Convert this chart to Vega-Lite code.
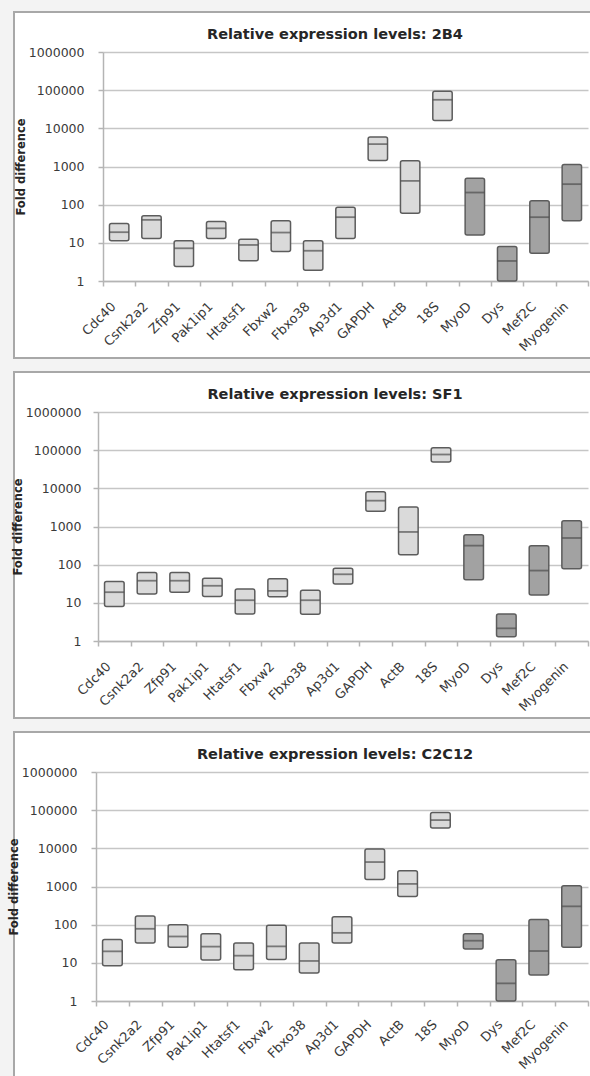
{
  "$schema": "https://vega.github.io/schema/vega-lite/v6.json",
  "background": "#f3f3f3",
  "padding": {"left": 7, "top": 11, "right": 0, "bottom": 0},
  "spacing": 12,
  "data": {
    "values": [
      {"line": "2B4", "gene": "Cdc40", "set": "reference", "low": 11.4, "mid": 19, "high": 32},
      {"line": "2B4", "gene": "Csnk2a2", "set": "reference", "low": 13, "mid": 40, "high": 51},
      {"line": "2B4", "gene": "Zfp91", "set": "reference", "low": 2.4, "mid": 7.2, "high": 11.4},
      {"line": "2B4", "gene": "Pak1ip1", "set": "reference", "low": 13, "mid": 24, "high": 36},
      {"line": "2B4", "gene": "Htatsf1", "set": "reference", "low": 3.4, "mid": 8.8, "high": 12.4},
      {"line": "2B4", "gene": "Fbxw2", "set": "reference", "low": 5.9, "mid": 18.6, "high": 38},
      {"line": "2B4", "gene": "Fbxo38", "set": "reference", "low": 1.9, "mid": 6.2, "high": 11.4},
      {"line": "2B4", "gene": "Ap3d1", "set": "reference", "low": 13, "mid": 47, "high": 86},
      {"line": "2B4", "gene": "GAPDH", "set": "reference", "low": 1440, "mid": 3860, "high": 5900},
      {"line": "2B4", "gene": "ActB", "set": "reference", "low": 60, "mid": 420, "high": 1410},
      {"line": "2B4", "gene": "18S", "set": "reference", "low": 16000, "mid": 56000, "high": 93000},
      {"line": "2B4", "gene": "MyoD", "set": "muscle", "low": 16, "mid": 208, "high": 495},
      {"line": "2B4", "gene": "Dys", "set": "muscle", "low": 1, "mid": 3.35, "high": 8},
      {"line": "2B4", "gene": "Mef2C", "set": "muscle", "low": 5.3, "mid": 47, "high": 126},
      {"line": "2B4", "gene": "Myogenin", "set": "muscle", "low": 38, "mid": 345, "high": 1130},

      {"line": "SF1", "gene": "Cdc40", "set": "reference", "low": 8, "mid": 19, "high": 36},
      {"line": "SF1", "gene": "Csnk2a2", "set": "reference", "low": 17, "mid": 38, "high": 62},
      {"line": "SF1", "gene": "Zfp91", "set": "reference", "low": 19, "mid": 38, "high": 62},
      {"line": "SF1", "gene": "Pak1ip1", "set": "reference", "low": 14.6, "mid": 28, "high": 44},
      {"line": "SF1", "gene": "Htatsf1", "set": "reference", "low": 5.1, "mid": 11.7, "high": 23},
      {"line": "SF1", "gene": "Fbxw2", "set": "reference", "low": 14.4, "mid": 20.5, "high": 43},
      {"line": "SF1", "gene": "Fbxo38", "set": "reference", "low": 5, "mid": 11.7, "high": 21.5},
      {"line": "SF1", "gene": "Ap3d1", "set": "reference", "low": 31, "mid": 56, "high": 81},
      {"line": "SF1", "gene": "GAPDH", "set": "reference", "low": 2500, "mid": 4750, "high": 8100},
      {"line": "SF1", "gene": "ActB", "set": "reference", "low": 182, "mid": 720, "high": 3250},
      {"line": "SF1", "gene": "18S", "set": "reference", "low": 49000, "mid": 77000, "high": 115000},
      {"line": "SF1", "gene": "MyoD", "set": "muscle", "low": 40, "mid": 315, "high": 610},
      {"line": "SF1", "gene": "Dys", "set": "muscle", "low": 1.3, "mid": 2.15, "high": 5.1},
      {"line": "SF1", "gene": "Mef2C", "set": "muscle", "low": 16, "mid": 70, "high": 313},
      {"line": "SF1", "gene": "Myogenin", "set": "muscle", "low": 78, "mid": 500, "high": 1420},

      {"line": "C2C12", "gene": "Cdc40", "set": "reference", "low": 8.4, "mid": 20, "high": 41},
      {"line": "C2C12", "gene": "Csnk2a2", "set": "reference", "low": 33, "mid": 78, "high": 168},
      {"line": "C2C12", "gene": "Zfp91", "set": "reference", "low": 25.5, "mid": 49, "high": 99},
      {"line": "C2C12", "gene": "Pak1ip1", "set": "reference", "low": 11.8, "mid": 26.6, "high": 58},
      {"line": "C2C12", "gene": "Htatsf1", "set": "reference", "low": 6.6, "mid": 15.4, "high": 33},
      {"line": "C2C12", "gene": "Fbxw2", "set": "reference", "low": 12.3, "mid": 27, "high": 97},
      {"line": "C2C12", "gene": "Fbxo38", "set": "reference", "low": 5.4, "mid": 11.2, "high": 33},
      {"line": "C2C12", "gene": "Ap3d1", "set": "reference", "low": 33, "mid": 61, "high": 161},
      {"line": "C2C12", "gene": "GAPDH", "set": "reference", "low": 1520, "mid": 4370, "high": 9600},
      {"line": "C2C12", "gene": "ActB", "set": "reference", "low": 545, "mid": 1170, "high": 2600},
      {"line": "C2C12", "gene": "18S", "set": "reference", "low": 34000, "mid": 55000, "high": 87000},
      {"line": "C2C12", "gene": "MyoD", "set": "muscle", "low": 23, "mid": 38, "high": 58},
      {"line": "C2C12", "gene": "Dys", "set": "muscle", "low": 1, "mid": 2.9, "high": 12},
      {"line": "C2C12", "gene": "Mef2C", "set": "muscle", "low": 4.8, "mid": 20.4, "high": 137},
      {"line": "C2C12", "gene": "Myogenin", "set": "muscle", "low": 25.5, "mid": 302, "high": 1040}
    ]
  },
  "config": {
    "font": "DejaVu Sans",
    "view": {"fill": "white", "stroke": "#a8a8a8", "strokeWidth": 2},
    "axis": {
      "gridColor": "#c6c6c6",
      "gridWidth": 1.5,
      "domainColor": "#b4b4b4",
      "domainWidth": 1.5,
      "tickColor": "#b4b4b4",
      "tickWidth": 1.5,
      "labelColor": "#3a3a3a",
      "titleColor": "#262626"
    },
    "title": {"fontSize": 14.5, "fontWeight": "bold", "color": "#262626", "offset": -30, "dx": 30, "anchor": "middle", "frame": "group"}
  },
  "vconcat": [
    {
      "width": 582,
      "height": 346,
      "title": "Relative expression levels: 2B4",
      "transform": [{"filter": "datum.line === '2B4'"}],
      "encoding": {
        "x": {
          "field": "gene", "type": "nominal",
          "sort": ["Cdc40", "Csnk2a2", "Zfp91", "Pak1ip1", "Htatsf1", "Fbxw2", "Fbxo38", "Ap3d1", "GAPDH", "ActB", "18S", "MyoD", "Dys", "Mef2C", "Myogenin"],
          "scale": {"range": [89, 574], "paddingInner": 0, "paddingOuter": 0},
          "axis": {"title": null, "offset": -77, "tickBand": "extent", "tickSize": 5, "labelAngle": -45, "labelAlign": "right", "labelBaseline": "middle", "labelPadding": 18, "labelOffset": -6, "labelFontSize": 13, "grid": false}
        },
        "color": {"field": "set", "type": "nominal", "scale": {"domain": ["reference", "muscle"], "range": ["#dadada", "#a2a2a2"]}, "legend": null}
      },
      "layer": [
        {
          "mark": {"type": "bar", "width": {"band": 0.6}, "stroke": "#5c5c5c", "strokeWidth": 1.5, "cornerRadius": 2},
          "encoding": {
            "y": {"field": "high", "type": "quantitative", "title": "Fold difference",
              "scale": {"type": "log", "domain": [1, 1000000], "range": [269, 40]},
              "axis": {"offset": -89, "values": [1, 10, 100, 1000, 10000, 100000, 1000000], "format": "d", "tickSize": 5, "labelPadding": 14, "labelFontSize": 12.5, "titleFontSize": 11.5, "titleFontWeight": "bold", "titlePadding": 2, "grid": true}},
            "y2": {"field": "low"}
          }
        },
        {
          "mark": {"type": "tick", "size": 19.5, "thickness": 1.8, "color": "#4f4f4f"},
          "encoding": {"y": {"field": "mid", "type": "quantitative", "title": "Fold difference"}, "color": {"value": "#4f4f4f"}}
        }
      ]
    },
    {
      "width": 582,
      "height": 346,
      "title": "Relative expression levels: SF1",
      "transform": [{"filter": "datum.line === 'SF1'"}],
      "encoding": {
        "x": {
          "field": "gene", "type": "nominal",
          "sort": ["Cdc40", "Csnk2a2", "Zfp91", "Pak1ip1", "Htatsf1", "Fbxw2", "Fbxo38", "Ap3d1", "GAPDH", "ActB", "18S", "MyoD", "Dys", "Mef2C", "Myogenin"],
          "scale": {"range": [84, 574], "paddingInner": 0, "paddingOuter": 0},
          "axis": {"title": null, "offset": -77, "tickBand": "extent", "tickSize": 5, "labelAngle": -45, "labelAlign": "right", "labelBaseline": "middle", "labelPadding": 18, "labelOffset": -6, "labelFontSize": 13, "grid": false}
        },
        "color": {"field": "set", "type": "nominal", "scale": {"domain": ["reference", "muscle"], "range": ["#dadada", "#a2a2a2"]}, "legend": null}
      },
      "layer": [
        {
          "mark": {"type": "bar", "width": {"band": 0.6}, "stroke": "#5c5c5c", "strokeWidth": 1.5, "cornerRadius": 2},
          "encoding": {
            "y": {"field": "high", "type": "quantitative", "title": "Fold difference",
              "scale": {"type": "log", "domain": [1, 1000000], "range": [269, 40]},
              "axis": {"offset": -84, "values": [1, 10, 100, 1000, 10000, 100000, 1000000], "format": "d", "tickSize": 5, "labelPadding": 12, "labelFontSize": 12.5, "titleFontSize": 11.5, "titleFontWeight": "bold", "titlePadding": 2, "grid": true}},
            "y2": {"field": "low"}
          }
        },
        {
          "mark": {"type": "tick", "size": 19.5, "thickness": 1.8, "color": "#4f4f4f"},
          "encoding": {"y": {"field": "mid", "type": "quantitative", "title": "Fold difference"}, "color": {"value": "#4f4f4f"}}
        }
      ]
    },
    {
      "width": 582,
      "height": 346,
      "title": "Relative expression levels: C2C12",
      "transform": [{"filter": "datum.line === 'C2C12'"}],
      "encoding": {
        "x": {
          "field": "gene", "type": "nominal",
          "sort": ["Cdc40", "Csnk2a2", "Zfp91", "Pak1ip1", "Htatsf1", "Fbxw2", "Fbxo38", "Ap3d1", "GAPDH", "ActB", "18S", "MyoD", "Dys", "Mef2C", "Myogenin"],
          "scale": {"range": [82, 574], "paddingInner": 0, "paddingOuter": 0},
          "axis": {"title": null, "offset": -77, "tickBand": "extent", "tickSize": 5, "labelAngle": -45, "labelAlign": "right", "labelBaseline": "middle", "labelPadding": 16, "labelOffset": -6, "labelFontSize": 13, "grid": false}
        },
        "color": {"field": "set", "type": "nominal", "scale": {"domain": ["reference", "muscle"], "range": ["#dadada", "#a2a2a2"]}, "legend": null}
      },
      "layer": [
        {
          "mark": {"type": "bar", "width": {"band": 0.6}, "stroke": "#5c5c5c", "strokeWidth": 1.5, "cornerRadius": 2},
          "encoding": {
            "y": {"field": "high", "type": "quantitative", "title": "Fold difference",
              "scale": {"type": "log", "domain": [1, 1000000], "range": [269, 40]},
              "axis": {"offset": -82, "values": [1, 10, 100, 1000, 10000, 100000, 1000000], "format": "d", "tickSize": 5, "labelPadding": 14, "labelFontSize": 12.5, "titleFontSize": 11.5, "titleFontWeight": "bold", "titlePadding": 2, "grid": true}},
            "y2": {"field": "low"}
          }
        },
        {
          "mark": {"type": "tick", "size": 19.5, "thickness": 1.8, "color": "#4f4f4f"},
          "encoding": {"y": {"field": "mid", "type": "quantitative", "title": "Fold difference"}, "color": {"value": "#4f4f4f"}}
        }
      ]
    }
  ]
}
